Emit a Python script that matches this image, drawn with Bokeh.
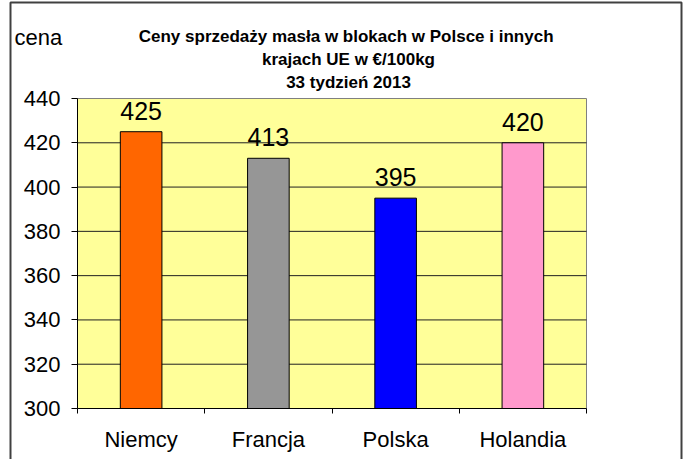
from bokeh.plotting import figure
from bokeh.models import ColumnDataSource, FixedTicker, Range1d, Label, LabelSet, BoxAnnotation
from bokeh.core.properties import value
from bokeh.embed import file_html
from bokeh.resources import INLINE

categories = ["Niemcy", "Francja", "Polska", "Holandia"]
values = [425, 413, 395, 420]
colors = ["#FF6600", "#969696", "#0000FF", "#FF99CC"]
y_ticks = [300, 320, 340, 360, 380, 400, 420, 440]
y_min, y_max = 300, 440

title_lines = ["Ceny sprzedaży masła w blokach w Polsce i  innych",
               "krajach UE w €/100kg",
               "33 tydzień 2013"]
y_label = "cena"

# canvas / plot-area layout in pixels
W, H = 690, 459
PL, PR, PT, PB = 77, 586, 98, 408
n = len(categories)
sx = (PR - PL) / n
sy = (PB - PT) / (y_max - y_min)


def px2x(px):
    return (px - PL) / sx


def px2y(py):
    return y_min + (PB - py) / sy


xs = [i + 0.5 for i in range(n)]
src = ColumnDataSource(dict(x=xs, top=values, color=colors,
                            label=[str(v) for v in values]))

p = figure(width=W, height=H, output_backend="svg", toolbar_location=None,
           x_range=Range1d(px2x(0), px2x(W)), y_range=Range1d(px2y(H), px2y(0)),
           min_border=0, min_border_left=0, min_border_right=0,
           min_border_top=0, min_border_bottom=0)
p.background_fill_color = "white"
p.border_fill_color = "white"
p.outline_line_color = None
p.xgrid.visible = False
p.ygrid.visible = False

# plot area
p.quad(left=0, right=n, bottom=y_min, top=y_max, fill_color="#FFFF99",
       line_color="#808080", line_width=1)
grid_vals = [t for t in y_ticks if y_min < t < y_max]
p.segment(x0=[0] * len(grid_vals), x1=[n] * len(grid_vals), y0=grid_vals, y1=grid_vals,
          line_color="#202020", line_width=1)

p.vbar(x="x", top="top", bottom=y_min, width=0.327, fill_color="color",
       line_color="black", line_width=1, source=src)

p.add_layout(LabelSet(x="x", y="top", text="label", source=src,
                      text_align="center", text_baseline="alphabetic", y_offset=12,
                      text_font=value("Liberation Sans"), text_font_size=value("25px"),
                      text_color=value("black")))

# y axis
yax = p.yaxis[0]
yax.fixed_location = 0
yax.bounds = (y_min, y_max)
yax.ticker = FixedTicker(ticks=y_ticks)
yax.axis_line_color = "black"
yax.major_tick_line_color = "black"
yax.major_tick_out = 6
yax.major_tick_in = 0
yax.minor_tick_line_color = None
yax.major_label_standoff = 11
yax.major_label_text_font = "Liberation Sans"
yax.major_label_text_font_size = "22px"
yax.major_label_text_color = "black"

# x axis: labels at centres, ticks at category boundaries
xax = p.xaxis[0]
xax.fixed_location = y_min
xax.bounds = (0, n)
xax.ticker = FixedTicker(ticks=xs, minor_ticks=list(range(n + 1)))
xax.major_label_overrides = {x: c for x, c in zip(xs, categories)}
xax.axis_line_color = "black"
xax.major_tick_line_color = None
xax.major_tick_out = 0
xax.major_tick_in = 0
xax.minor_tick_line_color = "black"
xax.minor_tick_out = 5
xax.minor_tick_in = 0
xax.major_label_standoff = 13
xax.major_label_text_font = "Liberation Sans"
xax.major_label_text_font_size = "22px"
xax.major_label_text_color = "black"

# titles and caption
for t, base in zip(title_lines, [36, 59, 82]):
    p.add_layout(Label(x=px2x(348), y=px2y(base), text=t,
                       text_align="center", text_baseline="alphabetic",
                       text_font="Liberation Sans", text_font_style="bold",
                       text_font_size="17px", text_color="black"))
p.add_layout(Label(x=px2x(14), y=px2y(37), text=y_label,
                   text_align="left", text_baseline="alphabetic",
                   text_font="Liberation Sans", text_font_size="22px",
                   text_color="black"))

# outer chart border (open at the bottom, as in the cropped original)
p.add_layout(BoxAnnotation(left=px2x(10), right=px2x(681), top=px2y(2), bottom=px2y(H + 20),
                           fill_color=None, fill_alpha=0, line_color="#404040",
                           line_width=2, line_alpha=1))

open("out.html", "w").write(file_html(p, INLINE))
